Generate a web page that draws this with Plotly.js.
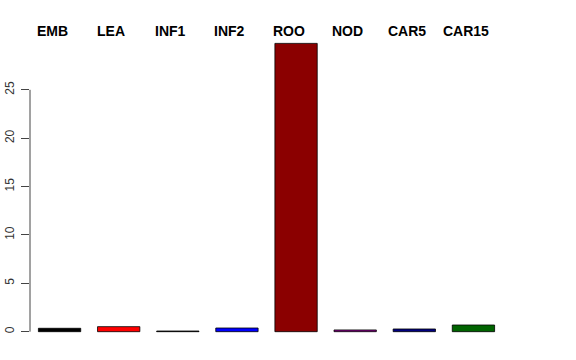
<!DOCTYPE html>
<html>
<head>
<meta charset="utf-8">
<script src="https://cdn.plot.ly/plotly-3.0.1.min.js"></script>
<style>html,body{margin:0;padding:0;background:#fff;}#chart{width:576px;height:360px;}</style>
</head>
<body>
<div id="chart"></div>
<script>
var categories = ["EMB", "LEA", "INF1", "INF2", "ROO", "NOD", "CAR5", "CAR15"];
var values = [0.35, 0.52, 0.07, 0.38, 29.8, 0.18, 0.28, 0.69];
var barColors = ["#000000", "#FF0000", "#000000", "#0000FF", "#8B0000", "#8B008B", "#000080", "#006400"];
var yTicks = [0, 5, 10, 15, 20, 25];

var trace = {
  type: "bar",
  x: categories.map(function (c, i) { return i; }),
  y: values,
  marker: { color: barColors, line: { color: "#000000", width: 0.8 } },
  hoverinfo: "skip"
};

var annotations = categories.map(function (c, i) {
  return {
    text: c, x: i, xref: "x", y: 1, yref: "paper",
    xanchor: "center", yanchor: "middle", xshift: -7.5, yshift: 9,
    showarrow: false,
    font: { family: "Liberation Sans, Arial, sans-serif", size: 14, color: "#000", weight: "bold" }
  };
});

var layout = {
  width: 576, height: 360,
  margin: { l: 30, r: 73, t: 40, b: 23, pad: 0 },
  paper_bgcolor: "#fff", plot_bgcolor: "#fff",
  showlegend: false,
  bargap: 0.284,
  xaxis: {
    range: [-0.5, 7.5], showticklabels: false, ticks: "", showline: false,
    showgrid: false, zeroline: false, fixedrange: true
  },
  yaxis: {
    range: [-0.55, 30.15], tickvals: yTicks, ticktext: yTicks.map(String),
    ticks: "outside", ticklen: 8, tickcolor: "#444", tickwidth: 1,
    tickangle: -90, ticklabelstandoff: 2,
    tickfont: { family: "Liberation Sans, Arial, sans-serif", size: 12, color: "#333" },
    showgrid: false, zeroline: false, showline: false, fixedrange: true
  },
  shapes: [{
    type: "line", xref: "paper", yref: "y", x0: 0, x1: 0,
    y0: yTicks[0], y1: yTicks[yTicks.length - 1],
    line: { color: "#444", width: 1 }
  }],
  annotations: annotations
};

Plotly.newPlot("chart", [trace], layout, { staticPlot: true, displayModeBar: false });
</script>
</body>
</html>
